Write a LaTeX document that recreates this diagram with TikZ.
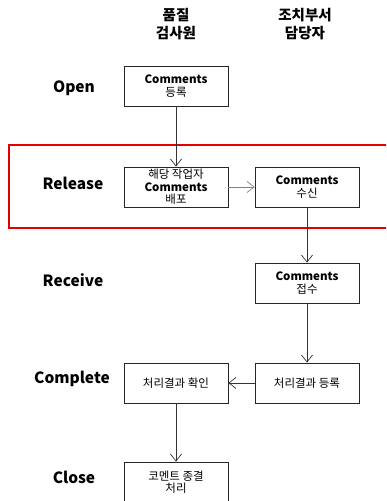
\documentclass[tikz,border=0pt]{standalone}
\usepackage{fontspec}
\setmainfont{Noto Sans CJK KR}
\usetikzlibrary{arrows.meta}
\tikzset{
  stepbox/.style={draw=black!85, line width=0.8pt, fill=white, minimum width=104pt,
    minimum height=40pt, inner sep=1pt, align=center, font=\fontsize{11.5}{12.5}\selectfont},
  phase/.style={font=\bfseries\fontsize{15.5}{17}\selectfont, anchor=center},
  head/.style={font=\bfseries\fontsize{14.5}{18.5}\selectfont, align=center},
  flow/.style={draw=black!80, line width=0.7pt, -{Straight Barb[length=7pt,width=11pt,line width=0.7pt]}},
}
\begin{document}
\begin{tikzpicture}[x=1pt,y=-1pt]
\useasboundingbox (0,0) rectangle (386,501);
\begin{scope}
\clip (0,0) rectangle (386,501);
% column headings
\node[head] (h1) at (176,24) {품질\\검사원};
\node[head] (h2) at (305,24) {조치부서\\담당자};
% phase labels
\node[phase] (pOpen) at (74,88) {Open};
\node[phase] (pRelease) at (73,183) {Release};
\node[phase] (pReceive) at (73,280) {Receive};
\node[phase] (pComplete) at (72,379) {Complete};
\node[phase] (pClose) at (74,477) {Close};
% highlighted release band
\draw[red!90!black, line width=2.6pt] (9,145) rectangle (392,228);
% process steps
\node[stepbox] (open) at (176,86) {\textbf{Comments}\\등록};
\node[stepbox] (rel) at (176,187) {해당 작업자\\\textbf{Comments}\\배포};
\node[stepbox] (recv) at (307,187) {\textbf{Comments}\\수신};
\node[stepbox] (acc) at (307,283) {\textbf{Comments}\\접수};
\node[stepbox] (reg) at (307,383) {처리결과 등록};
\node[stepbox] (chk) at (176,383) {처리결과 확인};
\node[stepbox] (close) at (176,482) {코멘트 종결\\처리};
% connectors
\draw[flow] (open) -- (rel);
\draw[flow, draw=black!50] (rel) -- (recv);
\draw[flow] (recv) -- (acc);
\draw[flow] (acc) -- (reg);
\draw[flow] (reg) -- (chk);
\draw[flow] (chk) -- (close);
\end{scope}
\end{tikzpicture}
\end{document}
